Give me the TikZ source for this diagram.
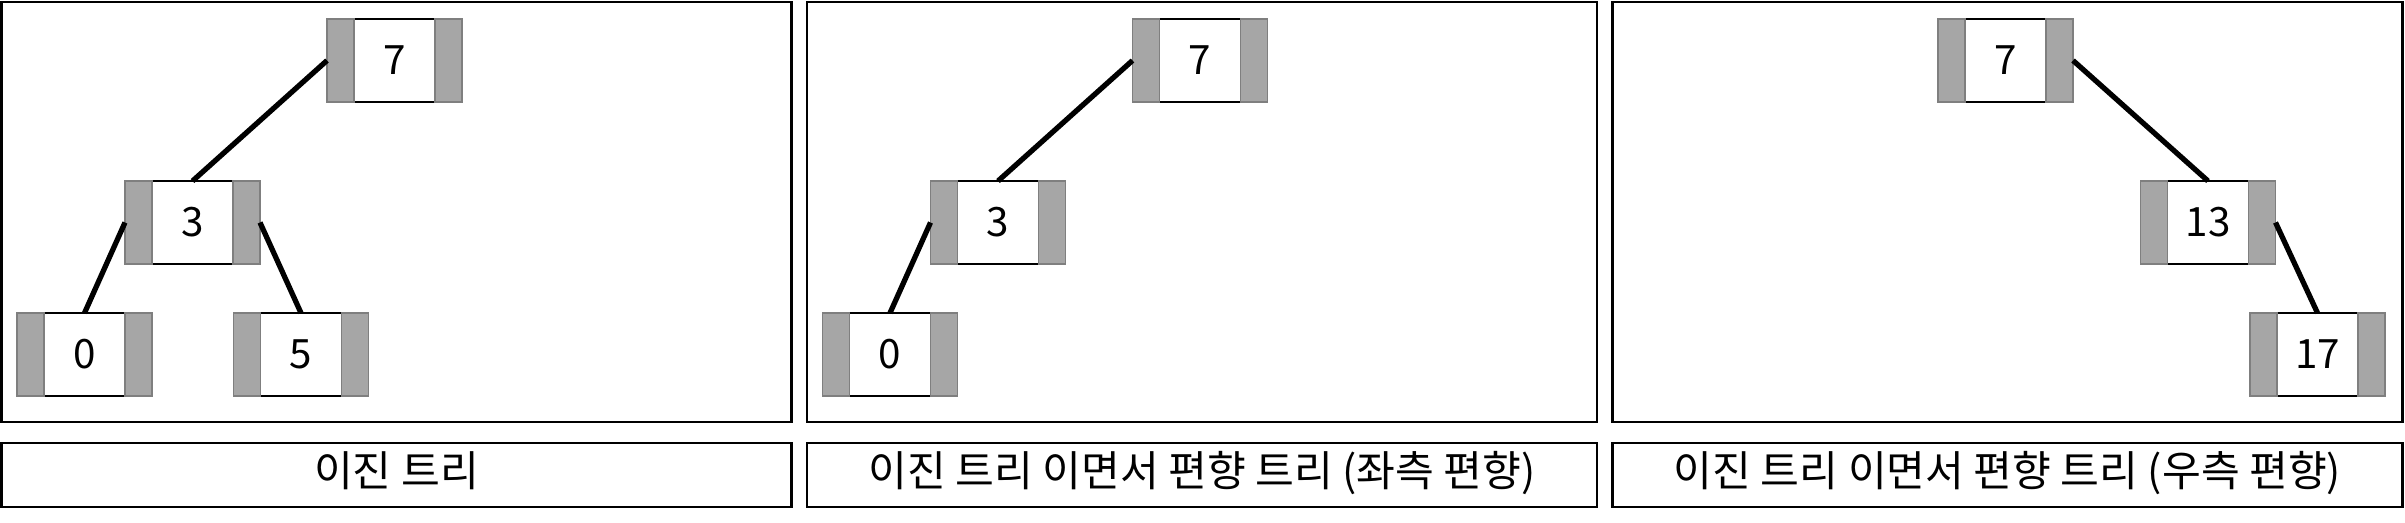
\documentclass[tikz,border=0pt]{standalone}
\usepackage{fontspec}
\setmainfont{Noto Sans CJK KR}
\usetikzlibrary{positioning}

\definecolor{sidegray}{HTML}{A6A6A6}
\definecolor{sideedge}{HTML}{7F7F7F}

% key box with a gray pointer slot on each side
\newcommand{\keynode}[3]{%
  \node[keybox] (#1) at (#2) {#3};
  \node[sidebox, left=0pt of #1] (#1l) {};
  \node[sidebox, right=0pt of #1] (#1r) {};
}

\begin{document}
\begin{tikzpicture}[font=\fontsize{11.5}{13}\selectfont,
  keybox/.style={draw, fill=white, line width=0.5pt, minimum width=0.81cm,
    minimum height=0.83cm, inner sep=0pt, outer sep=0pt},
  sidebox/.style={draw=sideedge, fill=sidegray, line width=0.5pt,
    minimum width=0.27cm, minimum height=0.83cm, inner sep=0pt, outer sep=0pt},
  link/.style={line width=1.5pt},
  panel/.style={draw, line width=0.75pt, minimum width=7.9cm,
    minimum height=4.2cm, inner sep=0pt},
  capbox/.style={draw, line width=0.75pt, minimum width=7.9cm,
    minimum height=0.64cm, inner sep=0pt, font=\fontsize{12}{14}\selectfont,
    text height=0.75em, text depth=0.1em}]
  \useasboundingbox (0,0) rectangle (24.05,-5.22);

  % frames and captions
  \node[panel] (pa) at (3.965,-2.12) {};
  \node[panel] (pb) at (12.02,-2.12) {};
  \node[panel] (pc) at (20.075,-2.12) {};
  \node[capbox] (ca) at (3.965,-4.75) {이진 트리};
  \node[capbox] (cb) at (12.02,-4.75) {이진 트리 이면서 편향 트리 (좌측 편향)};
  \node[capbox] (cc) at (20.075,-4.75) {이진 트리 이면서 편향 트리 (우측 편향)};

  % binary tree
  \keynode{a7}{3.945,-0.605}{7}
  \keynode{a3}{1.925,-2.225}{3}
  \keynode{a0}{0.845,-3.545}{0}
  \keynode{a5}{3.01,-3.545}{5}
  \draw[link] (a7l.west) -- (a3.north);
  \draw[link] (a3l.west) -- (a0.north);
  \draw[link] (a3r.east) -- (a5.north);

  % left skewed
  \begin{scope}[xshift=8.055cm]
    \keynode{b7}{3.945,-0.605}{7}
    \keynode{b3}{1.925,-2.225}{3}
    \keynode{b0}{0.845,-3.545}{0}
    \draw[link] (b7l.west) -- (b3.north);
    \draw[link] (b3l.west) -- (b0.north);
  \end{scope}

  % right skewed
  \begin{scope}[xshift=16.11cm]
    \keynode{c7}{3.945,-0.605}{7}
    \keynode{c13}{5.97,-2.225}{13}
    \keynode{c17}{7.065,-3.545}{17}
    \draw[link] (c7r.east) -- (c13.north);
    \draw[link] (c13r.east) -- (c17.north);
  \end{scope}
\end{tikzpicture}
\end{document}
